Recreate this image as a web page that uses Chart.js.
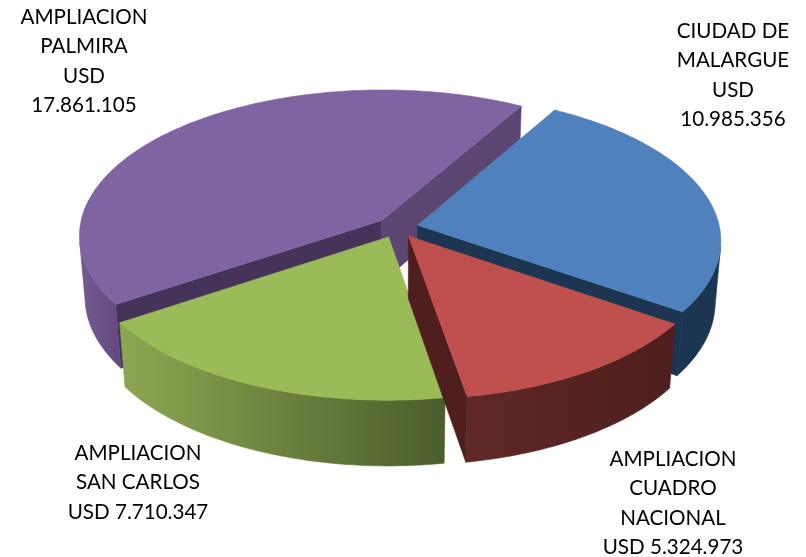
<!DOCTYPE html>
<html>
<head>
<meta charset="utf-8">
<script src="https://cdn.jsdelivr.net/npm/chart.js@4"></script>
<style>html,body{margin:0;padding:0;background:#fff}canvas{display:block}</style>
</head>
<body>
<canvas id="c" width="806" height="557"></canvas>
<script>
const categories = ['CIUDAD DE MALARGUE', 'AMPLIACION CUADRO NACIONAL', 'AMPLIACION SAN CARLOS', 'AMPLIACION PALMIRA'];
const amountsUSD = [10985356, 5324973, 7710347, 17861105];
const labelLines = [
  ['CIUDAD DE', 'MALARGUE', 'USD', '10.985.356'],
  ['AMPLIACION', 'CUADRO', 'NACIONAL', 'USD 5.324.973'],
  ['AMPLIACION', 'SAN CARLOS', 'USD 7.710.347'],
  ['AMPLIACION', 'PALMIRA', 'USD', '17.861.105']
];
const labelCenterX = [733, 673, 138, 84];
const labelFirstY = [31, 459, 453, 17];
const topColors = ['#4f81bd', '#c0504d', '#9bbb59', '#8064a2'];
const wallLeft = ['#1c3551', '#5f2826', '#8ca752', '#725a92'];
const wallRight = ['#1c3551', '#4e1f1e', '#4b5d2b', '#64497f'];
const startWall = ['#1c3551', '#4f1f1e', '#4e602d', '#46335a'];
const endWall = ['#1c3551', '#4f1f1e', '#4e602d', '#5c4672'];
const paintOrder = [3, 0, 2, 1];

const view = { cx: 397, cy: 227.5, a: 302, b: 145, depth: 63, k: 0.1, m: 0.018 };

function project(px, py, z) {
  const w = 1 / (1 - view.k * py + view.m * z);
  return [view.cx + view.a * px * w, view.cy + (view.b * py + view.depth * z) * w];
}
function area(pts) {
  let s = 0;
  for (let i = 0; i < pts.length; i++) {
    const p = pts[i], q = pts[(i + 1) % pts.length];
    s += p[0] * q[1] - q[0] * p[1];
  }
  return s / 2;
}
function fillPoly(ctx, pts, style) {
  ctx.beginPath();
  pts.forEach((p, i) => i ? ctx.lineTo(p[0], p[1]) : ctx.moveTo(p[0], p[1]));
  ctx.closePath();
  ctx.fillStyle = style;
  ctx.strokeStyle = style;
  ctx.lineWidth = 0.6;
  ctx.fill();
  ctx.stroke();
}
const pie3d = {
  id: 'pie3d',
  beforeDatasetsDraw(chart) {
    const ctx = chart.ctx;
    const arcs = chart.getDatasetMeta(0).data;
    paintOrder.forEach(i => {
      const el = arcs[i];
      const s = el.startAngle, e = el.endAngle, mid = (s + e) / 2;
      const ex = el.options.offset / 100;
      const ox = Math.cos(mid) * ex, oy = Math.sin(mid) * ex;
      const at = (t, z) => project(ox + Math.cos(t), oy + Math.sin(t), z);
      const apex = z => project(ox, oy, z);
      const steps = Math.max(8, Math.round((e - s) * 180 / Math.PI));
      const tAt = n => s + (e - s) * n / steps;

      const wallS = [apex(0), at(s, 0), at(s, 1), apex(1)];
      const wallE = [at(e, 0), apex(0), apex(1), at(e, 1)];
      if (area(wallS) < 0) fillPoly(ctx, wallS, startWall[i]);
      if (area(wallE) < 0) fillPoly(ctx, wallE, endWall[i]);

      // one polygon for the visible run(s) of the curved wall
      let run = [];
      const runs = [];
      for (let n = 0; n < steps; n++) {
        const q = [at(tAt(n), 0), at(tAt(n + 1), 0), at(tAt(n + 1), 1), at(tAt(n), 1)];
        if (area(q) < 0) {
          run.push(n);
        } else if (run.length) {
          runs.push(run);
          run = [];
        }
      }
      if (run.length) runs.push(run);
      runs.forEach(r => {
        const first = r[0], last = r[r.length - 1] + 1;
        const upper = [], lower = [];
        for (let n = first; n <= last; n++) {
          upper.push(at(tAt(n), 0));
          lower.unshift(at(tAt(n), 1));
        }
        const poly = upper.concat(lower);
        const xs = poly.map(p => p[0]);
        const g = ctx.createLinearGradient(Math.min(...xs), 0, Math.max(...xs), 0);
        g.addColorStop(0, wallLeft[i]);
        g.addColorStop(1, wallRight[i]);
        fillPoly(ctx, poly, g);
      });

      const top = [apex(0)];
      for (let n = 0; n <= steps; n++) top.push(at(tAt(n), 0));
      fillPoly(ctx, top, topColors[i]);
    });
    return false;
  },
  afterDraw(chart) {
    const ctx = chart.ctx;
    ctx.save();
    ctx.fillStyle = '#000';
    ctx.font = '20.6px Lato, "Open Sans", sans-serif';
    ctx.textAlign = 'center';
    ctx.textBaseline = 'middle';
    labelLines.forEach((lines, i) => {
      lines.forEach((t, j) => ctx.fillText(t, labelCenterX[i], labelFirstY[i] + j * 29.6));
    });
    ctx.restore();
  }
};

new Chart(document.getElementById('c'), {
  type: 'pie',
  data: {
    labels: categories,
    datasets: [{ data: amountsUSD, backgroundColor: topColors, borderWidth: 0, offset: 7 }]
  },
  options: {
    responsive: false,
    animation: false,
    rotation: 30,
    plugins: { legend: { display: false }, tooltip: { enabled: false } }
  },
  plugins: [pie3d]
});
</script>
</body>
</html>
